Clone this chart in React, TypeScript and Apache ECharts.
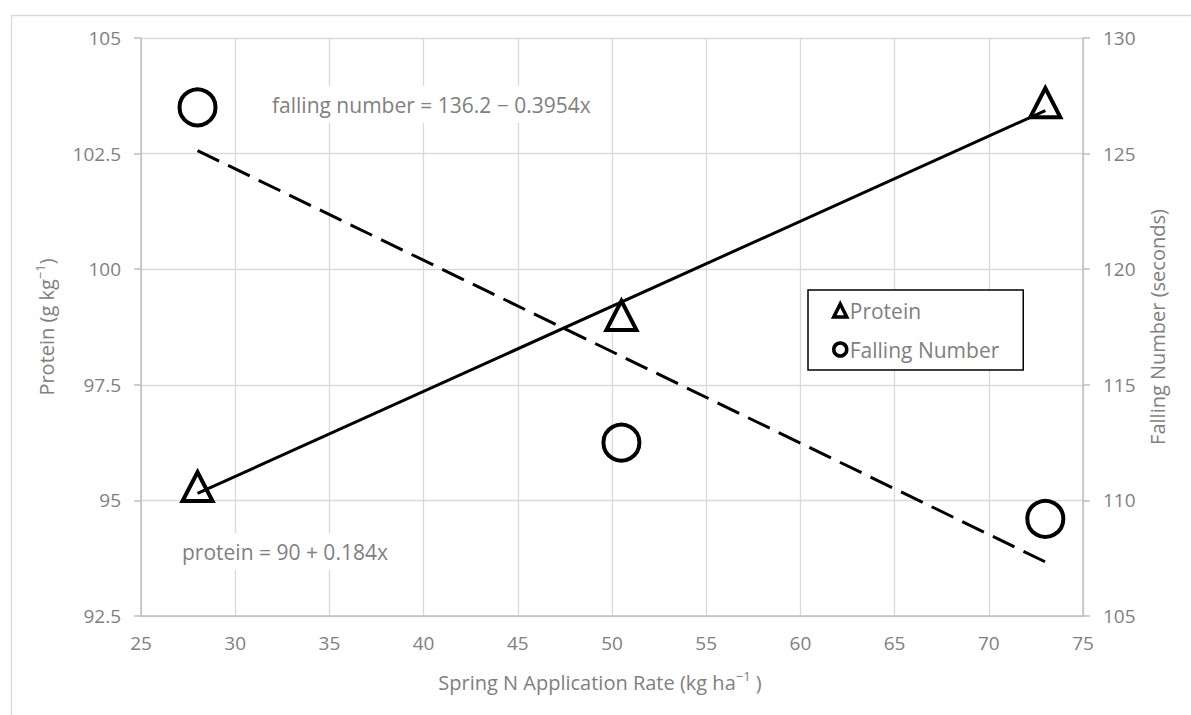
import React, { useEffect, useRef } from "react";
import * as echarts from "echarts";

const FONT = "'Open Sans', 'Noto Sans', sans-serif";
const GRAY = "#808080";

// Observed points (x = spring N rate, kg/ha)
const proteinPoints: [number, number][] = [
  [28, 95.3],
  [50.5, 99.0],
  [73, 103.6],
];
const fallingPoints: [number, number][] = [
  [28, 127.0],
  [50.5, 112.5],
  [73, 109.2],
];
// Trend line end points
const proteinTrend: [number, number][] = [
  [28, 95.15],
  [73, 103.43],
];
const fallingTrend: [number, number][] = [
  [28, 125.13],
  [73, 107.34],
];

const legendNames = ["Protein", "Falling Number"];
const proteinEq = "protein = 90 + 0.184x";
const fallingEq = "falling number = 136.2 \u2212 0.3954x";

export default function App() {
  const ref = useRef<HTMLDivElement>(null);

  useEffect(() => {
    if (!ref.current) return;
    const chart = echarts.init(ref.current, null, { renderer: "svg" });

    const nameRich = {
      a: { fontSize: 20, color: GRAY, fontFamily: FONT, lineHeight: 26 },
      s: { fontSize: 13, color: GRAY, fontFamily: FONT, lineHeight: 15, verticalAlign: "top" },
    };

    const markerStyle = { color: "rgba(0,0,0,0)", borderColor: "#000000", borderWidth: 4, opacity: 1 };

    chart.setOption({
      animation: false,
      backgroundColor: "#ffffff",
      textStyle: { fontFamily: FONT },
      grid: { left: 141, right: 108, top: 38, bottom: 99, containLabel: false },
      xAxis: {
        type: "value",
        min: 25,
        max: 75,
        interval: 5,
        name: "{a|Spring N Application Rate (kg ha}{s|\u22121}{a| )}",
        nameLocation: "middle",
        nameGap: 53,
        nameTextStyle: { rich: nameRich, padding: [0, 24, 0, 0] },
        axisLine: { lineStyle: { color: "#bfbfbf", width: 1.5 } },
        axisTick: { show: false },
        axisLabel: { color: GRAY, fontSize: 19, margin: 17, fontFamily: FONT },
        splitLine: { show: true, lineStyle: { color: "#d9d9d9", width: 1.3 } },
      },
      yAxis: [
        {
          type: "value",
          min: 92.5,
          max: 105,
          interval: 2.5,
          position: "left",
          name: "{a|Protein (g kg}{s|\u22121}{a|)}",
          nameLocation: "middle",
          nameRotate: 90,
          nameGap: 82,
          nameTextStyle: { rich: nameRich },
          axisLine: { show: true, lineStyle: { color: "#bfbfbf", width: 1.5 } },
          axisTick: { show: true, length: 7, lineStyle: { color: "#bfbfbf", width: 1.5 } },
          axisLabel: { color: GRAY, fontSize: 19, margin: 20, fontFamily: FONT },
          splitLine: { show: true, lineStyle: { color: "#d9d9d9", width: 1.3 } },
        },
        {
          type: "value",
          min: 105,
          max: 130,
          interval: 5,
          position: "right",
          name: "Falling Number (seconds)",
          nameLocation: "middle",
          nameRotate: 90,
          nameGap: 64,
          nameTextStyle: { fontSize: 20, color: GRAY, fontFamily: FONT },
          axisLine: { show: true, lineStyle: { color: "#bfbfbf", width: 1.5 } },
          axisTick: { show: true, length: 7, lineStyle: { color: "#bfbfbf", width: 1.5 } },
          axisLabel: { color: GRAY, fontSize: 19, margin: 20, fontFamily: FONT },
          splitLine: { show: false },
        },
      ],
      legend: {
        data: legendNames,
        orient: "vertical",
        left: 808,
        top: 290,
        padding: [10, 24, 10, 24],
        itemGap: 18,
        itemWidth: 13,
        itemHeight: 13,
        borderColor: "#000000",
        borderWidth: 1.5,
        backgroundColor: "#ffffff",
        itemStyle: { color: "rgba(0,0,0,0)", borderColor: "#000000", borderWidth: 3.5, opacity: 1 },
        textStyle: { color: GRAY, fontSize: 21, fontFamily: FONT, padding: [0, 0, 0, -2] },
      },
      series: [
        {
          name: "proteinTrend",
          type: "line",
          data: proteinTrend,
          showSymbol: false,
          symbol: "none",
          lineStyle: { color: "#000000", width: 3 },
          z: 2,
          silent: true,
        },
        {
          name: "fallingTrend",
          type: "line",
          yAxisIndex: 1,
          data: fallingTrend,
          showSymbol: false,
          symbol: "none",
          lineStyle: { color: "#000000", width: 3, type: [24, 10] },
          z: 2,
          silent: true,
        },
        {
          name: "Protein",
          type: "scatter",
          data: proteinPoints,
          symbol: "triangle",
          symbolSize: [30, 29],
          itemStyle: markerStyle,
          z: 3,
        },
        {
          name: "Falling Number",
          type: "scatter",
          yAxisIndex: 1,
          data: fallingPoints,
          symbol: "circle",
          symbolSize: 36,
          itemStyle: markerStyle,
          z: 3,
        },
      ],
      graphic: [
        {
          type: "rect",
          left: 9,
          top: 13,
          shape: { width: 1300, height: 800 },
          style: { fill: "none", stroke: "#d9d9d9", lineWidth: 1.3 },
          silent: true,
          z: -10,
        },
        {
          type: "text",
          x: 262,
          y: 86,
          style: {
            text: fallingEq,
            fill: GRAY,
            fontSize: 21,
            fontFamily: FONT,
            backgroundColor: "#ffffff",
            padding: [8, 10, 8, 10],
          },
          z: 5,
        },
        {
          type: "text",
          x: 172,
          y: 533,
          style: {
            text: proteinEq,
            fill: GRAY,
            fontSize: 21,
            fontFamily: FONT,
            backgroundColor: "#ffffff",
            padding: [8, 10, 8, 10],
          },
          z: 5,
        },
      ],
    });

    return () => chart.dispose();
  }, []);

  return (
    <div
      ref={ref}
      style={{ position: "absolute", left: 0, top: 0, width: 1191, height: 715 }}
    />
  );
}
